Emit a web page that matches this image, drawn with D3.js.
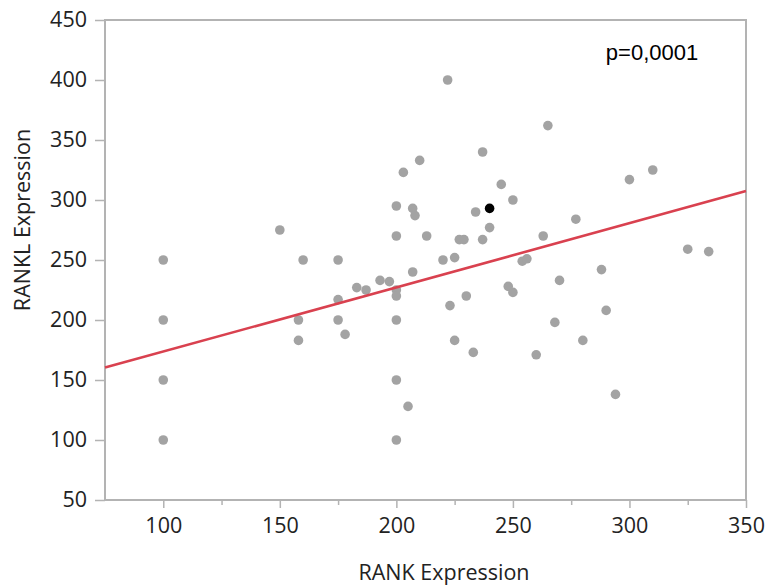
<!DOCTYPE html>
<html><head><meta charset="utf-8">
<script src="https://cdn.jsdelivr.net/npm/d3@7"></script>
<style>body{margin:0;background:#fff}svg{display:block}</style>
</head><body>
<script>
const rankX = [100,100,100,100,150,158,158,160,175,175,175,178,183,187,193,197,200,200,200,200,200,200,200,203,205,207,207,208,210,213,220,222,223,225,225,227,229,230,233,234,237,237,240,245,248,250,250,254,256,260,263,265,268,270,277,280,288,290,294,300,310,325,334];
const ranklY = [250,200,150,100,275,200,183,250,250,217,200,188,227,225,233,232,295,270,225,220,200,150,100,323,128,240,293,287,333,270,250,400,212,252,183,267,267,220,173,290,340,267,277,313,228,300,223,249,251,171,270,362,198,233,284,183,242,208,138,317,325,259,257];
const highlightX = [240];
const highlightY = [293];
const fitIntercept = 120.2, fitSlope = 0.535;
const xTicks = [100,150,200,250,300,350];
const xMinorTicks = [125,175,225,275,325];
const yTicks = [50,100,150,200,250,300,350,400,450];

const W = 766, H = 585;
const svg = d3.select("body").append("svg").attr("width", W).attr("height", H);
const x = d3.scaleLinear().domain([75,350]).range([105,746]);
const y = d3.scaleLinear().domain([50,450]).range([500,20]);
const frame = "#b3b3b3";
const tickFont = "'Open Sans', 'Noto Sans', sans-serif";
const fs = 21.5;

// frame
svg.append("rect").attr("x",105).attr("y",20).attr("width",641).attr("height",480)
  .attr("fill","none").attr("stroke",frame).attr("stroke-width",2);

// x axis
const xa = svg.append("g").attr("transform","translate(0,500)")
  .call(d3.axisBottom(x).tickValues(xTicks).tickSize(8).tickPadding(10).tickFormat(d3.format("d")));
svg.append("g").attr("transform","translate(0,500)")
  .call(d3.axisBottom(x).tickValues(xMinorTicks).tickSize(5).tickFormat(""))
  .call(g=>g.select(".domain").remove())
  .selectAll("line").attr("stroke",frame).attr("stroke-width",1.5);
xa.select(".domain").remove();
xa.selectAll("line").attr("stroke",frame).attr("stroke-width",1.5);
xa.selectAll("text").attr("font-family",tickFont).attr("font-size",fs).attr("fill","#222");

// y axis
const ya = svg.append("g").attr("transform","translate(105,0)")
  .call(d3.axisLeft(y).tickValues(yTicks).tickSize(10).tickPadding(8).tickFormat(d3.format("d")));
ya.select(".domain").remove();
ya.selectAll("line").attr("stroke",frame).attr("stroke-width",1.5);
ya.selectAll("text").attr("font-family",tickFont).attr("font-size",fs).attr("fill","#222");

// points
svg.append("g").selectAll("circle").data(rankX.map((v,i)=>[v,ranklY[i]])).join("circle")
  .attr("cx",d=>x(d[0])).attr("cy",d=>y(d[1])).attr("r",4.8).attr("fill","#a3a3a3");
svg.append("g").selectAll("circle").data(highlightX.map((v,i)=>[v,highlightY[i]])).join("circle")
  .attr("cx",d=>x(d[0])).attr("cy",d=>y(d[1])).attr("r",4.8).attr("fill","#000");

// fit line
const xd = x.domain();
svg.append("line")
  .attr("x1",x(xd[0])).attr("y1",y(fitIntercept+fitSlope*xd[0]))
  .attr("x2",x(xd[1])).attr("y2",y(fitIntercept+fitSlope*xd[1]))
  .attr("stroke","#d9414f").attr("stroke-width",2.6);

// labels
svg.append("text").attr("x",652).attr("y",60).attr("text-anchor","middle")
  .attr("font-family","'Liberation Sans', Arial, sans-serif").attr("font-size",22).attr("fill","#000").text("p=0,0001");
svg.append("text").attr("x",444).attr("y",580).attr("text-anchor","middle")
  .attr("font-family",tickFont).attr("font-size",fs).attr("fill","#222").text("RANK Expression");
svg.append("text").attr("transform","translate(30,220) rotate(-90)").attr("text-anchor","middle")
  .attr("font-family",tickFont).attr("font-size",fs).attr("fill","#222").text("RANKL Expression");
</script>
</body></html>
